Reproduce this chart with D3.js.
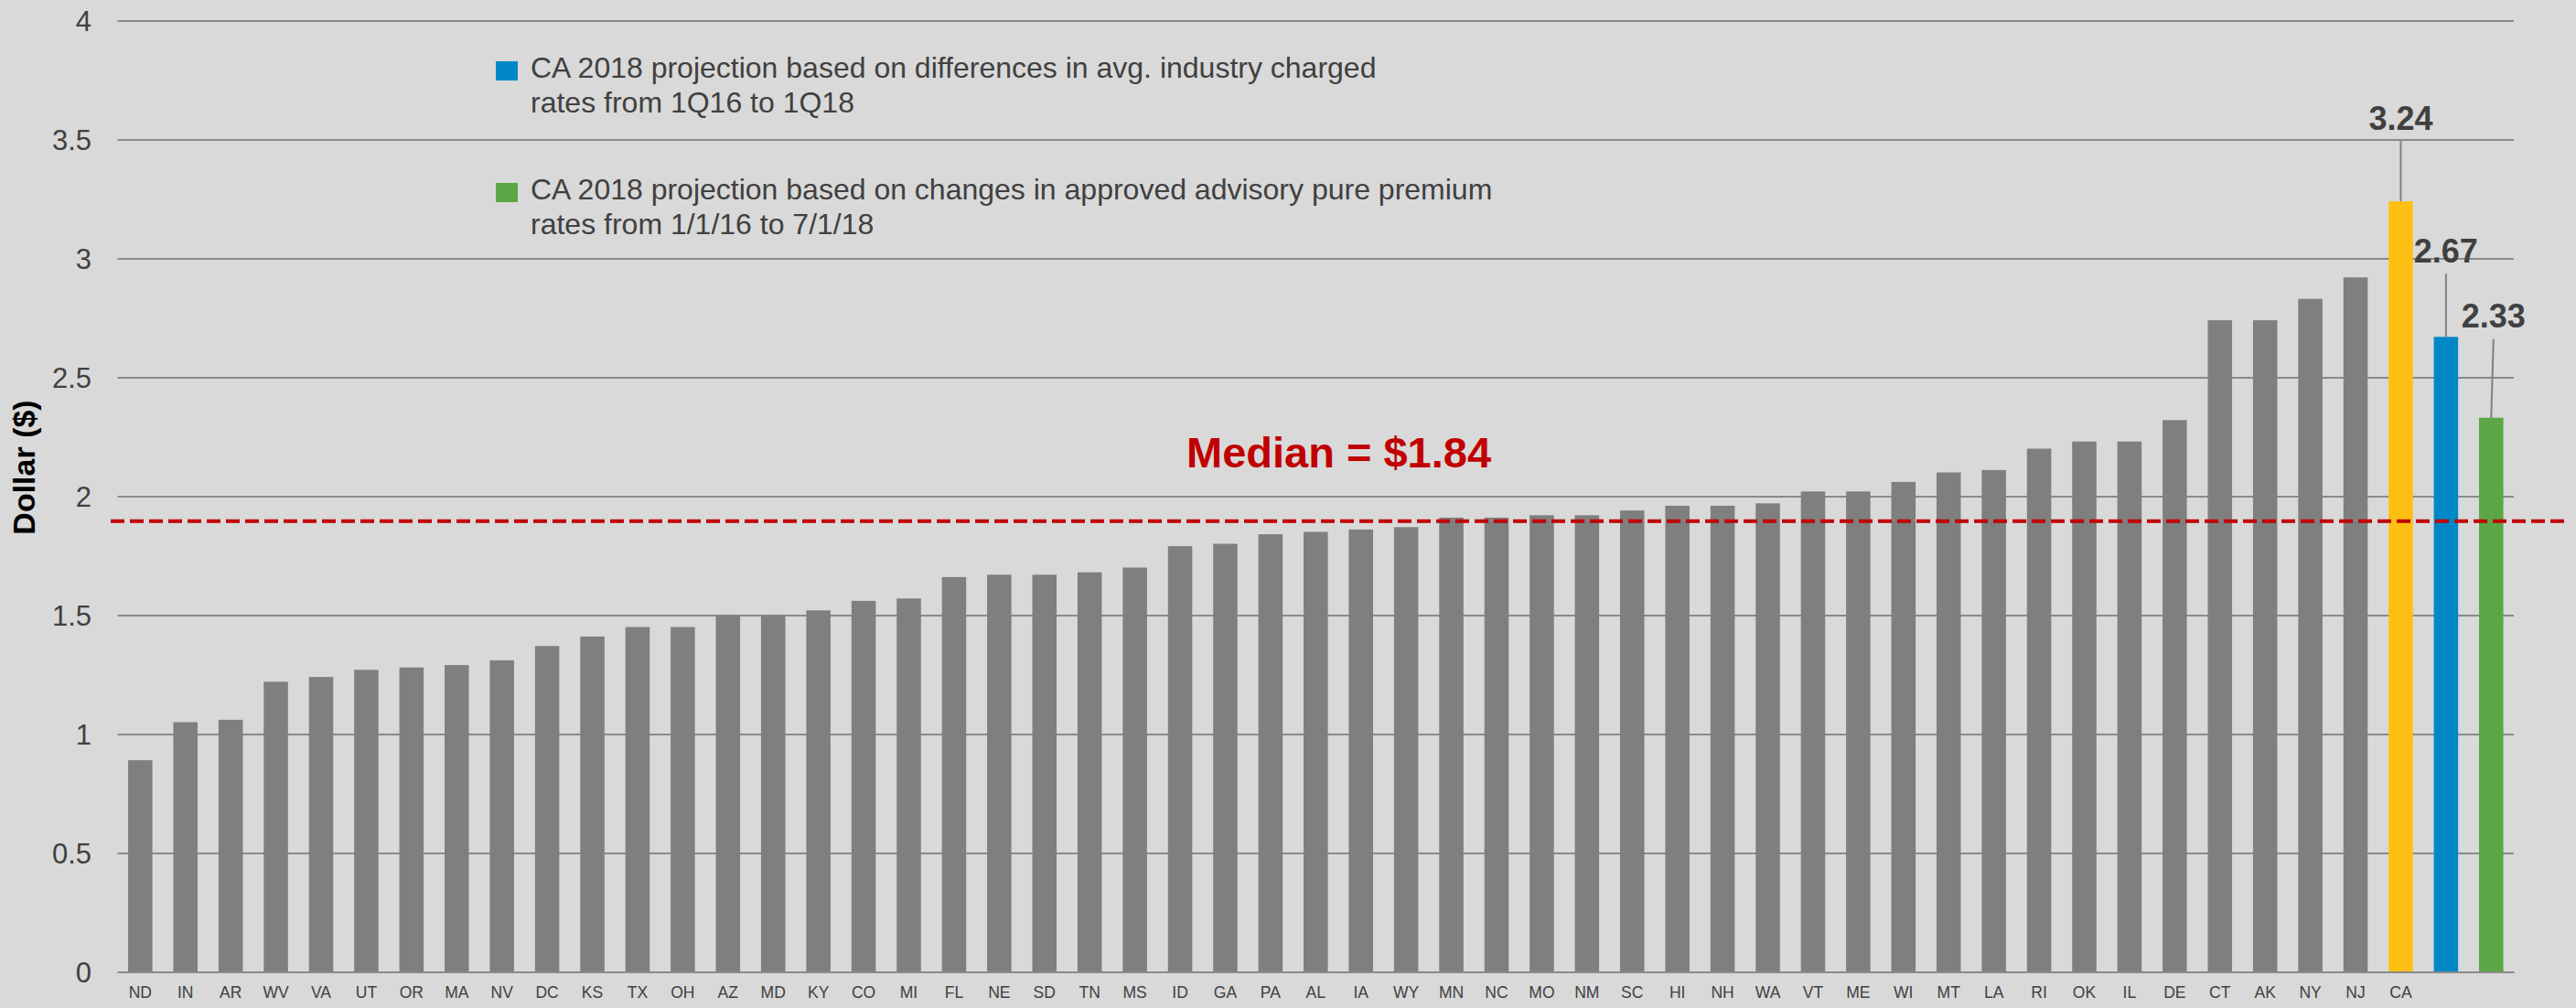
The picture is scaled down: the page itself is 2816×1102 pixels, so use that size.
<!DOCTYPE html>
<html>
<head>
<meta charset="utf-8">
<script src="https://cdn.jsdelivr.net/npm/d3@7"></script>
<style>
  html, body { margin: 0; padding: 0; background: #d9d9d9; }
  svg { display: block; }
  text { font-family: "Liberation Sans", Arial, sans-serif; }
</style>
</head>
<body>
<svg id="chart" width="2816" height="1102"></svg>
<script>
// ---------- DATA ----------
const states = ["ND","IN","AR","WV","VA","UT","OR","MA","NV","DC","KS","TX","OH","AZ","MD","KY","CO","MI","FL","NE",
  "SD","TN","MS","ID","GA","PA","AL","IA","WY","MN","NC","MO","NM","SC","HI","NH","WA","VT","ME","WI",
  "MT","LA","RI","OK","IL","DE","CT","AK","NY","NJ","CA"];
const stateValues = [0.89,1.05,1.06,1.22,1.24,1.27,1.28,1.29,1.31,1.37,1.41,1.45,1.45,1.50,1.50,1.52,1.56,1.57,1.66,1.67,
  1.67,1.68,1.70,1.79,1.80,1.84,1.85,1.86,1.87,1.91,1.91,1.92,1.92,1.94,1.96,1.96,1.97,2.02,2.02,2.06,
  2.10,2.11,2.20,2.23,2.23,2.32,2.74,2.74,2.83,2.92,3.24];
const projectionKeys = ["CA_proj_rates","CA_proj_pure_premium"];
const projectionValues = [2.67, 2.33];
const projectionLegend = [
  ["CA 2018 projection based on differences in avg. industry charged", "rates from 1Q16 to 1Q18"],
  ["CA 2018 projection based on changes in approved advisory pure premium", "rates from 1/1/16 to 7/1/18"]
];
const labelledKeys = ["CA","CA_proj_rates","CA_proj_pure_premium"];
const yTicks = [0,0.5,1,1.5,2,2.5,3,3.5,4];
const yTickLabels = ["0","0.5","1","1.5","2","2.5","3","3.5","4"];
const medianLabel = "Median = $1.84";
const medianLineValue = 1.895;
const yAxisTitle = "Dollar ($)";

// ---------- BUILD ----------
const categories = states.concat(projectionKeys);
const values = stateValues.concat(projectionValues);
const rows = categories.map((c, i) => ({key: c, value: values[i], label: states.includes(c) ? c : ""}));

const colors = {default: "#7f7f7f", CA: "#fdbf12", CA_proj_rates: "#0088c6", CA_proj_pure_premium: "#5ba745"};

const svg = d3.select("#chart");
const x0 = 128.6, x1 = 2748, yBottom = 1062.5, yTop = 22.5;

const x = d3.scaleBand().domain(categories).range([x0, x1]).paddingInner(0.463).paddingOuter(0.2315);
const y = d3.scaleLinear().domain([0, 4]).range([yBottom, yTop]);

// gridlines + y labels
const yAxis = svg.append("g").attr("transform", `translate(${x0},0)`)
  .call(d3.axisLeft(y).tickValues(yTicks).tickFormat((d, i) => yTickLabels[i])
    .tickSize(-(x1 - x0)).tickPadding(28.6));
yAxis.select(".domain").remove();
yAxis.selectAll(".tick line").attr("stroke", "#8a8a8a").attr("stroke-width", 2);
yAxis.selectAll(".tick text").attr("fill", "#404040").attr("font-size", 31)
  .attr("font-family", "'Liberation Sans', Arial, sans-serif").attr("dy", "0.36em");

// bars
svg.append("g").selectAll("rect").data(rows).join("rect")
  .attr("x", d => x(d.key))
  .attr("width", x.bandwidth())
  .attr("y", d => y(d.value))
  .attr("height", d => y(0) - y(d.value))
  .attr("fill", d => colors[d.key] || colors.default);

// x axis
const xAxis = svg.append("g").attr("transform", `translate(0,${yBottom})`)
  .call(d3.axisBottom(x).tickSize(0).tickSizeOuter(0).tickPadding(16)
    .tickFormat(k => rows.find(r => r.key === k).label));
xAxis.select(".domain").attr("stroke", "#8a8a8a").attr("stroke-width", 2);
xAxis.selectAll(".tick text").attr("fill", "#404040").attr("font-size", 17.5)
  .attr("font-family", "'Liberation Sans', Arial, sans-serif");

// median line
svg.append("line")
  .attr("x1", 121).attr("x2", 2808)
  .attr("y1", y(medianLineValue)).attr("y2", y(medianLineValue))
  .attr("stroke", "#c00000").attr("stroke-width", 4)
  .attr("stroke-dasharray", "15,6");

svg.append("text")
  .attr("x", 1297).attr("y", 511)
  .attr("fill", "#c00000").attr("font-size", 47).attr("font-weight", "bold")
  .text(medianLabel);

// value labels with leader lines
const labelOffsets = {CA: {dy: 78, dx: 0, gap: 12}, CA_proj_rates: {dy: 81, dx: 0, gap: 12}, CA_proj_pure_premium: {dy: 99, dx: 2.5, gap: 13}};
const lab = svg.append("g");
labelledKeys.forEach(k => {
  const r = rows.find(d => d.key === k);
  const cx = x(k) + x.bandwidth() / 2;
  const top = y(r.value);
  const o = labelOffsets[k];
  const base = top - o.dy;
  lab.append("line")
    .attr("x1", cx + o.dx).attr("y1", base + o.gap)
    .attr("x2", cx).attr("y2", top)
    .attr("stroke", "#808080").attr("stroke-width", 2);
  lab.append("text")
    .attr("x", cx + o.dx).attr("y", base)
    .attr("text-anchor", "middle")
    .attr("fill", "#404040").attr("font-size", 36).attr("font-weight", "bold")
    .text(d3.format(".2f")(r.value));
});

// legend
const legend = svg.append("g");
const legendTop = [67, 200];
projectionLegend.forEach((lines, i) => {
  legend.append("rect")
    .attr("x", 542).attr("y", legendTop[i])
    .attr("width", 24).attr("height", 21)
    .attr("fill", colors[projectionKeys[i]]);
  lines.forEach((t, j) => {
    legend.append("text")
      .attr("x", 580).attr("y", legendTop[i] + 18 + j * 38)
      .attr("fill", "#404040").attr("font-size", 32)
      .text(t);
  });
});

// y axis title
svg.append("text")
  .attr("transform", "translate(38,511) rotate(-90)")
  .attr("text-anchor", "middle")
  .attr("fill", "#000").attr("font-size", 34).attr("font-weight", "bold")
  .text(yAxisTitle);
</script>
</body>
</html>
